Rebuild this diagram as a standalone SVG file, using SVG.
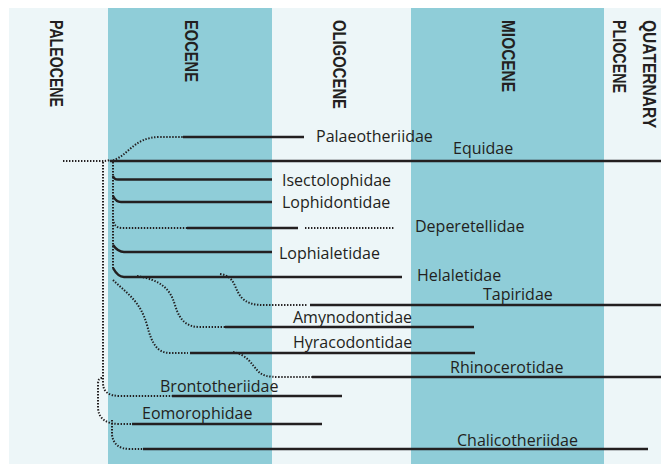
<svg xmlns="http://www.w3.org/2000/svg" width="661" height="464" viewBox="0 0 661 464">
<style>
.light{fill:#edf6f8}
.dark{fill:#8fcdd8}
.era{font-family:"Liberation Sans",Arial,sans-serif;font-weight:bold;font-size:18px;fill:#231f20}
.lbl{font-family:"Open Sans","Liberation Sans",sans-serif;font-size:16px;fill:#231f20}
.solid{fill:none;stroke:#231f20;stroke-width:2.5}
.dot{fill:none;stroke:#231f20;stroke-width:2;stroke-dasharray:1.4 1.6}
</style>
<g id="background">
<rect class="light" x="9" y="8" width="652" height="456"/>
<rect class="dark" x="108" y="8" width="164" height="456"/>
<rect class="dark" x="411" y="8" width="193" height="456"/>
</g>
<g id="eras">
<text class="era" transform="translate(50,20) rotate(90)" textLength="87" lengthAdjust="spacingAndGlyphs">PALEOCENE</text>
<text class="era" transform="translate(185,20) rotate(90)" textLength="62" lengthAdjust="spacingAndGlyphs">EOCENE</text>
<text class="era" transform="translate(333,20) rotate(90)" textLength="89" lengthAdjust="spacingAndGlyphs">OLIGOCENE</text>
<text class="era" transform="translate(502,20) rotate(90)" textLength="72" lengthAdjust="spacingAndGlyphs">MIOCENE</text>
<text class="era" transform="translate(613,20) rotate(90)" textLength="73" lengthAdjust="spacingAndGlyphs">PLIOCENE</text>
<text class="era" transform="translate(643,20) rotate(90)" textLength="108" lengthAdjust="spacingAndGlyphs">QUATERNARY</text>
</g>
<g id="connectors">
<path class="dot" d="M63,161 H103 Q106,161 110,160"/>
<path class="dot" d="M110,161 C128,158 132,137 160,137 H183"/>
<path class="dot" d="M103,162 V383 Q103,396 120,396 H172"/>
<path class="dot" d="M113,162 V268"/>
<path class="dot" d="M113,219 Q114,228 122,228 H187"/>
<path class="dot" d="M305,228 H395"/>
<path class="dot" d="M220,274 C236,276 234,290 242,298 C248,304 255,305 265,305 H308"/>
<path class="dot" d="M137,276 C160,280 170,288 175,305 C180,322 188,327 200,327 H225"/>
<path class="dot" d="M113,280 C125,292 140,300 147,325 C152,345 158,353 170,353 H188"/>
<path class="dot" d="M233,352 C248,355 252,365 257,370 C262,376 268,377 280,377 H312"/>
<path class="dot" d="M102,378 Q98,378 98,384 V408 Q99,424 120,424 H132"/>
<path class="dot" d="M112,420 V435 Q114,449 130,449 H143"/>
</g>
<g id="Equidae"><path class="solid" d="M110,161 H661"/><text class="lbl" x="453" y="154">Equidae</text></g>
<g id="Palaeotheriidae"><path class="solid" d="M183,137 H304"/><text class="lbl" x="316" y="142">Palaeotheriidae</text></g>
<g id="Isectolophidae"><path class="solid" d="M113,176 Q114,179.5 118,179.5 H272"/><text class="lbl" x="282" y="186">Isectolophidae</text></g>
<g id="Lophidontidae"><path class="solid" d="M113,196 Q116,202 121,202 H272"/><text class="lbl" x="282" y="208">Lophidontidae</text></g>
<g id="Deperetellidae"><path class="solid" d="M187,228 H298"/><text class="lbl" x="415" y="232">Deperetellidae</text></g>
<g id="Lophialetidae"><path class="solid" d="M113,245 Q118,252 124,252 H272"/><text class="lbl" x="279" y="259">Lophialetidae</text></g>
<g id="Helaletidae"><path class="solid" d="M113,268 Q118,277 124,277 H402"/><text class="lbl" x="417" y="281">Helaletidae</text></g>
<g id="Tapiridae"><path class="solid" d="M310,305 H661"/><text class="lbl" x="483" y="300">Tapiridae</text></g>
<g id="Amynodontidae"><path class="solid" d="M225,327 H474"/><text class="lbl" x="293" y="323">Amynodontidae</text></g>
<g id="Hyracodontidae"><path class="solid" d="M190,353 H475"/><text class="lbl" x="293" y="348">Hyracodontidae</text></g>
<g id="Rhinocerotidae"><path class="solid" d="M312,377 H661"/><text class="lbl" x="450" y="373">Rhinocerotidae</text></g>
<g id="Brontotheriidae"><path class="solid" d="M172,396 H342"/><text class="lbl" x="160" y="392">Brontotheriidae</text></g>
<g id="Eomorophidae"><path class="solid" d="M132,424 H322"/><text class="lbl" x="142" y="419">Eomorophidae</text></g>
<g id="Chalicotheriidae"><path class="solid" d="M143,449 H648"/><text class="lbl" x="457" y="446">Chalicotheriidae</text></g>
</svg>
